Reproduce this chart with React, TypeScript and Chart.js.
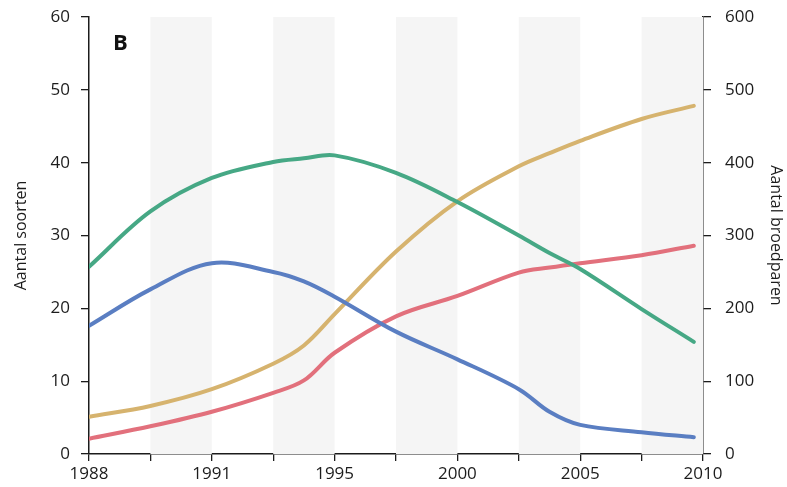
import React, { useEffect, useRef } from 'react';
import { Chart, registerables } from 'chart.js';

Chart.register(...registerables);

// x positions are category slots (equally spaced ticks), labels only on even slots
const yearLabels = ['1988', '', '1991', '', '1995', '', '2000', '', '2005', '', '2010'];
const xPos = [0, 1, 2, 3, 3.5, 4, 5, 6, 7, 7.5, 8, 9, 9.85];
// left axis: Aantal soorten
const greenSoorten = [25.7, 33.3, 37.9, 40.1, 40.6, 41.0, 38.6, 34.6, 30.0, 27.6, 25.4, 19.9, 15.4];
const blueSoorten = [17.6, 22.6, 26.2, 25.0, 23.7, 21.6, 16.8, 13.0, 8.9, 5.8, 4.0, 3.0, 2.3];
// right axis: Aantal broedparen
const yellowBroedparen = [51, 66, 89, 124, 149, 192, 278, 347, 395, 413, 430, 460, 478];
const redBroedparen = [21, 38, 58, 84, 101, 139, 189, 217, 249, 256, 262, 273, 286];
// shaded background bands (slot ranges)
const stripeRanges = [[1, 2], [3, 4], [5, 6], [7, 8], [9, 10]];
const panelLabel = 'B';

const FONT = '"Open Sans", "Noto Sans", sans-serif';
const INK = '#1c1c1c';

const toPts = (ys: number[]) => ys.map((y, i) => ({ x: xPos[i], y }));

const stripesPlugin = {
  id: 'stripes',
  beforeDatasetsDraw(chart: any) {
    const { ctx, chartArea, scales } = chart;
    const xs = scales.x;
    ctx.save();
    ctx.fillStyle = '#f5f5f5';
    stripeRanges.forEach(([a, b]) => {
      const x0 = xs.getPixelForValue(a);
      const x1 = xs.getPixelForValue(b);
      ctx.fillRect(x0, chartArea.top, x1 - x0, chartArea.bottom - chartArea.top);
    });
    ctx.restore();
  },
  afterDraw(chart: any) {
    const { ctx, chartArea } = chart;
    ctx.save();
    ctx.fillStyle = '#111';
    ctx.font = 'bold 22px ' + FONT;
    ctx.textBaseline = 'top';
    ctx.textAlign = 'left';
    ctx.fillText(panelLabel, chartArea.left + 24, chartArea.top + 16);
    ctx.restore();
  },
};

export default function App() {
  const ref = useRef<HTMLCanvasElement | null>(null);
  useEffect(() => {
    if (!ref.current) return;
    const line = (data: number[], color: string, axis: string) => ({
      data: toPts(data),
      borderColor: color,
      backgroundColor: color,
      borderWidth: 4,
      pointRadius: 0,
      tension: 0.35,
      yAxisID: axis,
      borderCapStyle: 'round' as const,
    });
    const tickFont = { family: FONT, size: 17 };
    const fitY = (w: number) => (s: any) => {
      s.width = w;
      s.paddingTop = 0;
      s.paddingBottom = 0;
    };
    const chart = new Chart(ref.current, {
      type: 'line',
      data: {
        datasets: [
          line(greenSoorten, '#46a885', 'y'),
          line(blueSoorten, '#5a7ec2', 'y'),
          line(yellowBroedparen, '#d6b36e', 'y1'),
          line(redBroedparen, '#e2707c', 'y1'),
        ],
      },
      options: {
        animation: false,
        responsive: true,
        maintainAspectRatio: false,
        layout: { padding: { top: 17, bottom: 0, left: 0, right: 0 } },
        plugins: { legend: { display: false }, tooltip: { enabled: false } },
        scales: {
          x: {
            type: 'linear',
            min: 0,
            max: 10,
            position: 'bottom',
            ticks: {
              stepSize: 1,
              autoSkip: false,
              maxRotation: 0,
              padding: 3,
              color: INK,
              font: tickFont,
              callback: (v: any) => yearLabels[Math.round(Number(v))] ?? '',
            },
            grid: { drawOnChartArea: false, drawTicks: true, tickLength: 7, color: INK, lineWidth: 1.3 },
            border: { display: true, color: INK, width: 1.5 },
            afterFit: (s: any) => { s.height = 33; },
          },
          y: {
            position: 'left',
            min: 0,
            max: 60,
            ticks: { stepSize: 10, padding: 11, color: INK, font: tickFont },
            grid: { drawOnChartArea: false, drawTicks: true, tickLength: 8, color: INK, lineWidth: 1.3 },
            border: { display: true, color: INK, width: 1.5 },
            title: { display: true, text: 'Aantal soorten', color: INK, font: { family: FONT, size: 16 }, padding: { top: 12, bottom: 0 } },
            afterFit: fitY(89),
          },
          y1: {
            position: 'right',
            min: 0,
            max: 600,
            ticks: { stepSize: 100, padding: 14, color: INK, font: tickFont },
            grid: { drawOnChartArea: false, drawTicks: true, tickLength: 8, color: INK, lineWidth: 1.3 },
            border: { display: true, color: INK, width: 1.5 },
            title: { display: true, text: 'Aantal broedparen', color: INK, font: { family: FONT, size: 16 }, padding: { top: 2, bottom: 0 } },
            afterFit: fitY(84),
          },
        },
      },
      plugins: [stripesPlugin],
    });
    return () => chart.destroy();
  }, []);
  return (
    <div style={{ position: 'fixed', left: 0, top: 0, width: 787, height: 487, background: '#fff' }}>
      <canvas ref={ref} />
    </div>
  );
}
